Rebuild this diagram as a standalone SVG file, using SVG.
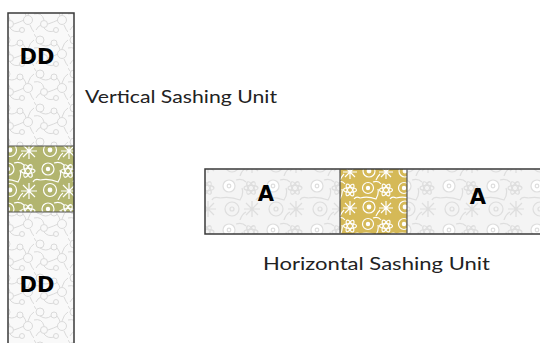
<svg xmlns="http://www.w3.org/2000/svg" width="540" height="343" viewBox="0 0 540 343">
<style>
.lbl{font-family:Lato,"Noto Sans","Liberation Sans",sans-serif;font-size:18px;fill:#222}
.code{font-family:"DejaVu Sans","Liberation Sans",sans-serif;font-size:21px;font-weight:bold;fill:#000}
.edge{fill:none;stroke:#3a3a3a;stroke-width:1.5}
.div{stroke:#555;stroke-width:1.2}
.vl{fill:none;stroke:#dadada;stroke-width:1}
.fg{fill:none;stroke:#dedede;stroke-width:1.2}
.fw{fill:none;stroke:#ffffff;stroke-width:1.2}
</style>
<defs>
<pattern id="vine" width="34" height="34" patternUnits="userSpaceOnUse">
<rect width="34" height="34" fill="#f9f9f9"/>
<circle class="vl" cx="6" cy="6" r="4"/>
<circle class="vl" cx="20" cy="9" r="3"/>
<circle class="vl" cx="28" cy="20" r="4.5"/>
<circle class="vl" cx="10" cy="24" r="3.5"/>
<circle class="vl" cx="22" cy="30" r="2.5"/>
<path class="vl" d="M0 14 Q8 12 10 20 M6 10 Q12 14 17 10 M23 10 Q26 14 26 16 M14 24 Q20 22 24 20 M10 28 Q14 33 20 31 M30 25 Q32 30 34 32 M28 15 Q30 8 34 6 M2 30 Q4 26 7 25 M0 0 L2 3"/>
</pattern>
<pattern id="flG" width="44" height="44" patternUnits="userSpaceOnUse">
<rect width="44" height="44" fill="#f4f4f4"/>
<g class="fg">
<circle cx="9" cy="10" r="6" fill="#fff"/><circle cx="9" cy="10" r="1.8"/>
<g transform="translate(31,12)"><ellipse rx="7" ry="2.6"/><ellipse rx="7" ry="2.6" transform="rotate(60)"/><ellipse rx="7" ry="2.6" transform="rotate(120)"/></g>
<path d="M32 25 L32 41 M24 33 L40 33 M26 27 L38 39 M38 27 L26 39"/>
<circle cx="12" cy="33" r="7"/><circle cx="12" cy="33" r="2"/>
<path d="M0 22 Q10 20 20 24 Q24 18 22 12 M16 4 Q22 2 26 6 M20 44 Q22 38 26 36 M44 22 Q38 20 36 24"/>
</g>
</pattern>
<pattern id="flGreen" width="40" height="40" patternUnits="userSpaceOnUse">
<rect width="40" height="40" fill="#b2b56f"/>
<g class="fw">
<circle cx="8" cy="9" r="6"/><circle cx="8" cy="9" r="1.6" fill="#fff"/>
<g transform="translate(28,11)"><ellipse rx="7" ry="2.5"/><ellipse rx="7" ry="2.5" transform="rotate(60)"/><ellipse rx="7" ry="2.5" transform="rotate(120)"/></g>
<path d="M29 23 L29 39 M21 31 L37 31 M23 25 L35 37 M35 25 L23 37"/>
<circle cx="10" cy="30" r="6.5"/><circle cx="10" cy="30" r="1.8" fill="#fff"/>
<path d="M0 20 Q9 18 18 22 Q22 16 20 10 M14 3 Q20 1 24 5 M18 40 Q20 35 23 33 M40 20 Q35 18 33 22"/>
</g>
</pattern>
<pattern id="flGold" width="36" height="36" patternUnits="userSpaceOnUse">
<rect width="36" height="36" fill="#d5b957"/>
<g class="fw">
<circle cx="8" cy="8" r="5.5"/><circle cx="8" cy="8" r="1.6" fill="#fff"/>
<g transform="translate(26,10)"><ellipse rx="6.5" ry="2.4"/><ellipse rx="6.5" ry="2.4" transform="rotate(60)"/><ellipse rx="6.5" ry="2.4" transform="rotate(120)"/></g>
<path d="M26 21 L26 35 M19 28 L33 28 M21 23 L31 33 M31 23 L21 33"/>
<circle cx="9" cy="27" r="6"/><circle cx="9" cy="27" r="1.8" fill="#fff"/>
<path d="M0 18 Q8 16 16 19 Q19 14 18 9 M13 2 Q18 0 21 4 M16 36 Q18 32 20 30 M36 18 Q32 16 30 19"/>
</g>
</pattern>
</defs>
<rect width="540" height="343" fill="#ffffff"/>
<g id="connectors"/>
<g id="vertical-top">
<rect x="8" y="13" width="66" height="133" fill="url(#vine)"/>
<text class="code" x="37" y="64" text-anchor="middle">DD</text>
</g>
<g id="vertical-middle">
<rect x="8" y="146" width="66" height="66" fill="url(#flGreen)"/>
</g>
<g id="vertical-bottom">
<rect x="8" y="212" width="66" height="135" fill="url(#vine)"/>
<text class="code" x="37" y="292" text-anchor="middle">DD</text>
</g>
<g id="vertical-frame">
<path class="edge" d="M8 345 V13 H74 V345"/>
<path class="div" d="M8 146 H74 M8 212 H74"/>
</g>
<g id="vertical-label"><text class="lbl" x="85" y="103" textLength="192" lengthAdjust="spacingAndGlyphs">Vertical Sashing Unit</text></g>
<g id="horizontal-left">
<rect x="205" y="169" width="135" height="65" fill="url(#flG)"/>
<text class="code" x="266" y="201" text-anchor="middle">A</text>
</g>
<g id="horizontal-middle">
<rect x="340" y="169" width="67" height="65" fill="url(#flGold)"/>
</g>
<g id="horizontal-right">
<rect x="407" y="169" width="135" height="65" fill="url(#flG)"/>
<text class="code" x="478" y="204" text-anchor="middle">A</text>
</g>
<g id="horizontal-frame">
<path class="edge" d="M542 169 H205 V234 H542"/>
<path class="div" d="M340 169 V234 M407 169 V234"/>
</g>
<g id="horizontal-label"><text class="lbl" x="263" y="270" textLength="227" lengthAdjust="spacingAndGlyphs">Horizontal Sashing Unit</text></g>
</svg>
